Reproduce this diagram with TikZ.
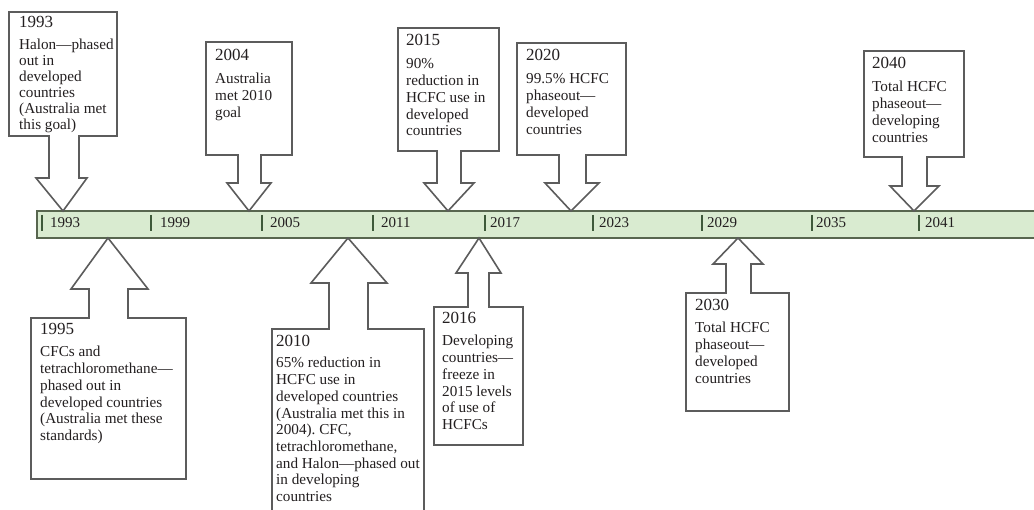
\documentclass[tikz,border=0pt]{standalone}
\usepackage{fontspec}
\setmainfont{Liberation Serif}
\definecolor{boxline}{HTML}{5C5C5C}
\definecolor{barfill}{HTML}{D9EBD0}
\definecolor{barline}{HTML}{58664F}
\definecolor{tickc}{HTML}{3E5A3A}
\definecolor{txt}{HTML}{231F20}
\newcommand\cblines[1]{\begin{tabular}[t]{@{}l@{}}#1\end{tabular}}
\frenchspacing
\begin{document}
\begin{tikzpicture}[x=1pt,y=-1pt,
  callout/.style={draw=boxline,line width=1.6pt,fill=white,line join=miter},
  yeartext/.style={anchor=base west,inner sep=0pt,font=\fontsize{17}{20}\selectfont,text=txt},
  bodytext/.style={anchor=base west,inner sep=0pt,font=\fontsize{15.2}{16.7}\selectfont,text=txt},
  tightbody/.style={anchor=base west,inner sep=0pt,font=\fontsize{15.2}{16}\selectfont,text=txt},
  barlabel/.style={anchor=base west,inner sep=0pt,font=\fontsize{15}{18}\selectfont,text=txt},
  tick/.style={draw=tickc,line width=1.4pt},
  bar/.style={draw=barline,line width=2.2pt,fill=barfill}]
\useasboundingbox (0,0) rectangle (1034,510);
\clip (0,0) rectangle (1034,510);
\fill[white] (0,0) rectangle (1034,510);

% timeline bar
\draw[bar] (37,211) rectangle (1045,238);
\foreach \tx/\lx/\yr in {42/50/1993,151/160/1999,262/270/2005,373/381/2011,485/490/2017,593/599/2023,702/707/2029,812/816/2035,919/925/2041}{
  \draw[tick] (\tx,215) -- (\tx,231);
  \node[barlabel] (lab\yr) at (\lx,228) {\yr};
}

% tips on the bar
\coordinate (tip1993) at (63,211);
\coordinate (tip2004) at (249,211);
\coordinate (tip2015) at (448,211);
\coordinate (tip2020) at (571,211);
\coordinate (tip2040) at (914,211);
\coordinate (tip1995) at (108,238);
\coordinate (tip2010) at (348,238);
\coordinate (tip2016) at (479,238);
\coordinate (tip2030) at (738,238);

% top callouts
\draw[callout] (9,12) -- (117,12) -- (117,136) -- (79,136) -- (79,178) -- (87,178) -- (tip1993) -- (36,178) -- (49,178) -- (49,136) -- (9,136) -- cycle;
\node[yeartext] (y1993) at (19,28) {1993};
\node[tightbody] (b1993) at (19,50) {\cblines{Halon—phased\\out in\\developed\\countries\\(Australia met\\this goal)}};

\draw[callout] (206,42) -- (292,42) -- (292,155) -- (261,155) -- (261,183) -- (271,183) -- (tip2004) -- (227,183) -- (238,183) -- (238,155) -- (206,155) -- cycle;
\node[yeartext] (y2004) at (215,61) {2004};
\node[bodytext] (b2004) at (215,84) {\cblines{Australia\\met 2010\\goal}};

\draw[callout] (398,28) -- (499,28) -- (499,151) -- (461,151) -- (461,183) -- (474,183) -- (tip2015) -- (424,183) -- (437,183) -- (437,151) -- (398,151) -- cycle;
\node[yeartext] (y2015) at (406,46) {2015};
\node[bodytext] (b2015) at (406,69) {\cblines{90\%\\reduction in\\HCFC use in\\developed\\countries}};

\draw[callout] (517,43) -- (626,43) -- (626,155) -- (586,155) -- (586,183) -- (599,183) -- (tip2020) -- (545,183) -- (559,183) -- (559,155) -- (517,155) -- cycle;
\node[yeartext] (y2020) at (526,61) {2020};
\node[bodytext] (b2020) at (526,84) {\cblines{99.5\% HCFC\\phaseout—\\developed\\countries}};

\draw[callout] (864,51) -- (964,51) -- (964,157) -- (927,157) -- (927,186) -- (939,186) -- (tip2040) -- (890,186) -- (902,186) -- (902,157) -- (864,157) -- cycle;
\node[yeartext] (y2040) at (872,69) {2040};
\node[bodytext] (b2040) at (872,92) {\cblines{Total HCFC\\phaseout—\\developing\\countries}};

% bottom callouts
\draw[callout] (31,318) -- (89,318) -- (89,289) -- (71,289) -- (tip1995) -- (148,289) -- (128,289) -- (128,318) -- (186,318) -- (186,479) -- (31,479) -- cycle;
\node[yeartext] (y1995) at (40,335) {1995};
\node[bodytext] (b1995) at (40,357) {\cblines{CFCs and\\tetrachloromethane—\\phased out in\\developed countries\\(Australia met these\\standards)}};

\draw[callout] (272,329) -- (329,329) -- (329,283) -- (311,283) -- (tip2010) -- (387,283) -- (368,283) -- (368,329) -- (424,329) -- (424,530) -- (272,530) -- cycle;
\node[yeartext] (y2010) at (276,347) {2010};
\node[bodytext] (b2010) at (276,368) {\cblines{65\% reduction in\\HCFC use in\\developed countries\\(Australia met this in\\2004). CFC,\\tetrachloromethane,\\and Halon—phased out\\in developing\\countries}};

\draw[callout] (434,307) -- (468,307) -- (468,273) -- (456,273) -- (tip2016) -- (501,273) -- (489,273) -- (489,307) -- (523,307) -- (523,445) -- (434,445) -- cycle;
\node[yeartext] (y2016) at (442,324) {2016};
\node[bodytext] (b2016) at (442,346) {\cblines{Developing\\countries—\\freeze in\\2015 levels\\of use of\\HCFCs}};

\draw[callout] (686,293) -- (726,293) -- (726,264) -- (713,264) -- (tip2030) -- (763,264) -- (751,264) -- (751,293) -- (789,293) -- (789,411) -- (686,411) -- cycle;
\node[yeartext] (y2030) at (695,311) {2030};
\node[bodytext] (b2030) at (695,333) {\cblines{Total HCFC\\phaseout—\\developed\\countries}};
\end{tikzpicture}
\end{document}
